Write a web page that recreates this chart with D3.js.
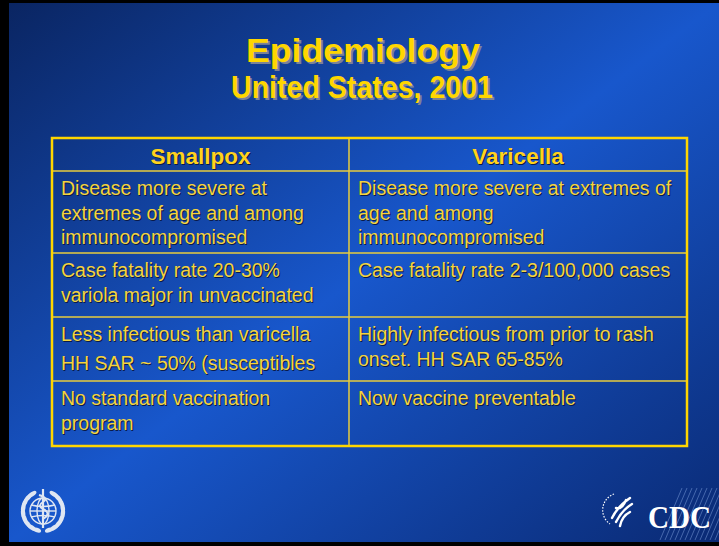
<!DOCTYPE html>
<meta charset="utf-8">
<script src="https://d3js.org/d3.v7.min.js"></script>
<style>
body { margin: 0; background: #000; }
svg { display: block; }
</style>
<div id="slide"></div>
<script>

// slide text
var titleText = "Epidemiology";
var subtitleText = "United States, 2001";
var diseases = ["Smallpox", "Varicella"];

// each cell = list of paragraphs, each paragraph = list of wrapped lines
var smallpoxCells = [
  [["Disease more severe at", "extremes of age and among", "immunocompromised"]],
  [["Case fatality rate 20-30%", "variola major in unvaccinated"]],
  [["Less infectious than varicella"], ["HH SAR ~ 50% (susceptibles"]],
  [["No standard vaccination", "program"]]
];
var varicellaCells = [
  [["Disease more severe at extremes of", "age and among", "immunocompromised"]],
  [["Case fatality rate 2-3/100,000 cases"]],
  [["Highly infectious from prior to rash", "onset. HH SAR 65-85%"]],
  [["Now vaccine preventable"]]
];

var W = 719, H = 546;

var svg = d3.select("#slide")
  .append("svg")
    .attr("width", W)
    .attr("height", H);

var defs = svg.append("defs");
var grad = defs.append("linearGradient")
    .attr("id", "bg")
    .attr("x1", 0).attr("y1", 0).attr("x2", 1).attr("y2", 1);
grad.append("stop").attr("offset", 0).attr("stop-color", "#0a2562");
grad.append("stop").attr("offset", 0.5).attr("stop-color", "#1857cc");
grad.append("stop").attr("offset", 1).attr("stop-color", "#0a2a74");

// slide background (black frame round it)
svg.append("rect").attr("width", W).attr("height", H).attr("fill", "#000");
svg.append("rect")
  .attr("x", 9).attr("y", 3)
  .attr("width", W - 9).attr("height", 539)
  .attr("fill", "url(#bg)");

var font = "Arial, 'Liberation Sans', sans-serif";

// title with grey drop shadow
function titleLine(txt, x, y, size, len) {
  svg.append("text")
    .attr("x", x).attr("y", y)
    .attr("text-anchor", "middle")
    .attr("font-family", font)
    .attr("font-weight", "bold")
    .attr("font-size", size)
    .attr("textLength", len)
    .attr("lengthAdjust", "spacingAndGlyphs")
    .attr("fill", "#ffd600")
    .style("text-shadow", "2px 2px 0 #7c8296")
    .text(txt);
}
titleLine(titleText, 363, 62, 34, 234);
titleLine(subtitleText, 362, 98, 31, 262);

// table scales
var x = d3.scaleLinear().domain([0, 1, 2]).range([52, 349, 687]);
var y = d3.scaleLinear().domain([0, 1, 2, 3, 4, 5]).range([138, 171, 253, 317, 381, 446]);

var table = svg.append("g");
var lineCol = "#e8cc3c";

// inner horizontal lines
table.selectAll(".hline")
  .data([1, 2, 3, 4])
  .enter().append("line")
    .attr("x1", x(0)).attr("x2", x(2))
    .attr("y1", function(d) { return y(d); })
    .attr("y2", function(d) { return y(d); })
    .attr("stroke", lineCol)
    .attr("stroke-width", 1.5);

// column divider
table.append("line")
  .attr("x1", x(1)).attr("x2", x(1))
  .attr("y1", y(0)).attr("y2", y(5))
  .attr("stroke", lineCol)
  .attr("stroke-width", 1.5);

// outer border
table.append("rect")
  .attr("x", x(0)).attr("y", y(0))
  .attr("width", x(2) - x(0)).attr("height", y(5) - y(0))
  .attr("fill", "none")
  .attr("stroke", "#ffd600")
  .attr("stroke-width", 2.5);

// headers
table.selectAll(".head")
  .data(diseases)
  .enter().append("text")
    .attr("x", function(d, i) { return (x(i) + x(i + 1)) / 2; })
    .attr("y", y(0) + 26)
    .attr("text-anchor", "middle")
    .attr("font-family", font)
    .attr("font-weight", "bold")
    .attr("font-size", 22.5)
    .attr("fill", "#ffd21c")
    .style("text-shadow", "1px 1px 0 #0a1a48")
    .text(function(d) { return d; });

// body cells
var lineH = 24.5, paraGap = 4;
[smallpoxCells, varicellaCells].forEach(function(cells, col) {
  cells.forEach(function(paras, row) {
    var lines = [], n = 0;
    paras.forEach(function(p, pi) {
      p.forEach(function(l) {
        lines.push({ text: l, dy: n * lineH + pi * paraGap });
        n++;
      });
    });
    table.selectAll(null)
      .data(lines)
      .enter().append("text")
        .attr("x", x(col) + 9)
        .attr("y", function(d) { return y(row + 1) + 24 + d.dy; })
        .attr("font-family", font)
        .attr("font-size", 19.5)
        .attr("fill", "#f4d43e")
        .style("text-shadow", "1px 1px 0 #0a1a48")
        .text(function(d) { return d.text; });
  });
});

// WHO emblem, bottom left (rough drawing)
var who = svg.append("g")
  .attr("transform", "translate(43,511)")
  .attr("fill", "none")
  .attr("stroke", "#dfe6f2")
  .attr("stroke-width", 1.4);
who.append("circle").attr("r", 13);
who.append("ellipse").attr("rx", 6).attr("ry", 13);
who.append("line").attr("x1", -13).attr("x2", 13);
who.append("path").attr("d", "M-12,-6 Q0,-3 12,-6 M-12,6 Q0,3 12,6");
who.append("line").attr("x1", 0).attr("y1", -22).attr("x2", 0).attr("y2", 17)
  .attr("stroke-width", 2.2);
who.append("path").attr("d", "M-4,-16 Q6,-13 0,-9 Q-7,-5 2,-1 Q8,3 0,8")
  .attr("stroke-width", 2);
d3.range(9).forEach(function(i) {
  var a = -1.0 + i * 0.28;
  [1, -1].forEach(function(s) {
    var cx = s * 20 * Math.cos(a), cy = 20 * Math.sin(a);
    who.append("ellipse")
      .attr("cx", cx).attr("cy", cy)
      .attr("rx", 2.2).attr("ry", 4.8)
      .attr("fill", "#dfe6f2").attr("stroke", "none")
      .attr("transform", "rotate(" + (s * (a * 180 / Math.PI)) + "," + cx + "," + cy + ")");
  });
});

// CDC logo, bottom right (rough drawing)
var cdc = svg.append("g");
d3.range(16).forEach(function(i) {
  var x0 = 660 + i * 5;
  cdc.append("line")
    .attr("x1", x0).attr("y1", 540)
    .attr("x2", x0 + 22).attr("y2", 488)
    .attr("stroke", "#8fb0e8").attr("stroke-opacity", 0.45).attr("stroke-width", 1);
});
cdc.append("text")
  .attr("x", 648).attr("y", 528)
  .attr("font-family", "'Liberation Serif', 'DejaVu Serif', serif")
  .attr("font-weight", "bold")
  .attr("font-size", 32)
  .attr("textLength", 63)
  .attr("lengthAdjust", "spacingAndGlyphs")
  .attr("fill", "#ffffff")
  .text("CDC");
var eagle = cdc.append("g")
  .attr("transform", "translate(618,510)")
  .attr("fill", "none").attr("stroke", "#ffffff");
eagle.append("path").attr("d", "M-4,-16 A17,17 0 0,0 -8,14")
  .attr("stroke-width", 1.2).attr("stroke-dasharray", "1.5,1.5");
eagle.append("path")
  .attr("d", "M12,-12 Q0,-4 -6,8 M14,-6 Q4,0 -2,12 M12,2 Q4,6 2,16 M-2,-2 Q4,0 8,-10")
  .attr("stroke-width", 2.4).attr("stroke-linecap", "round");
</script>
